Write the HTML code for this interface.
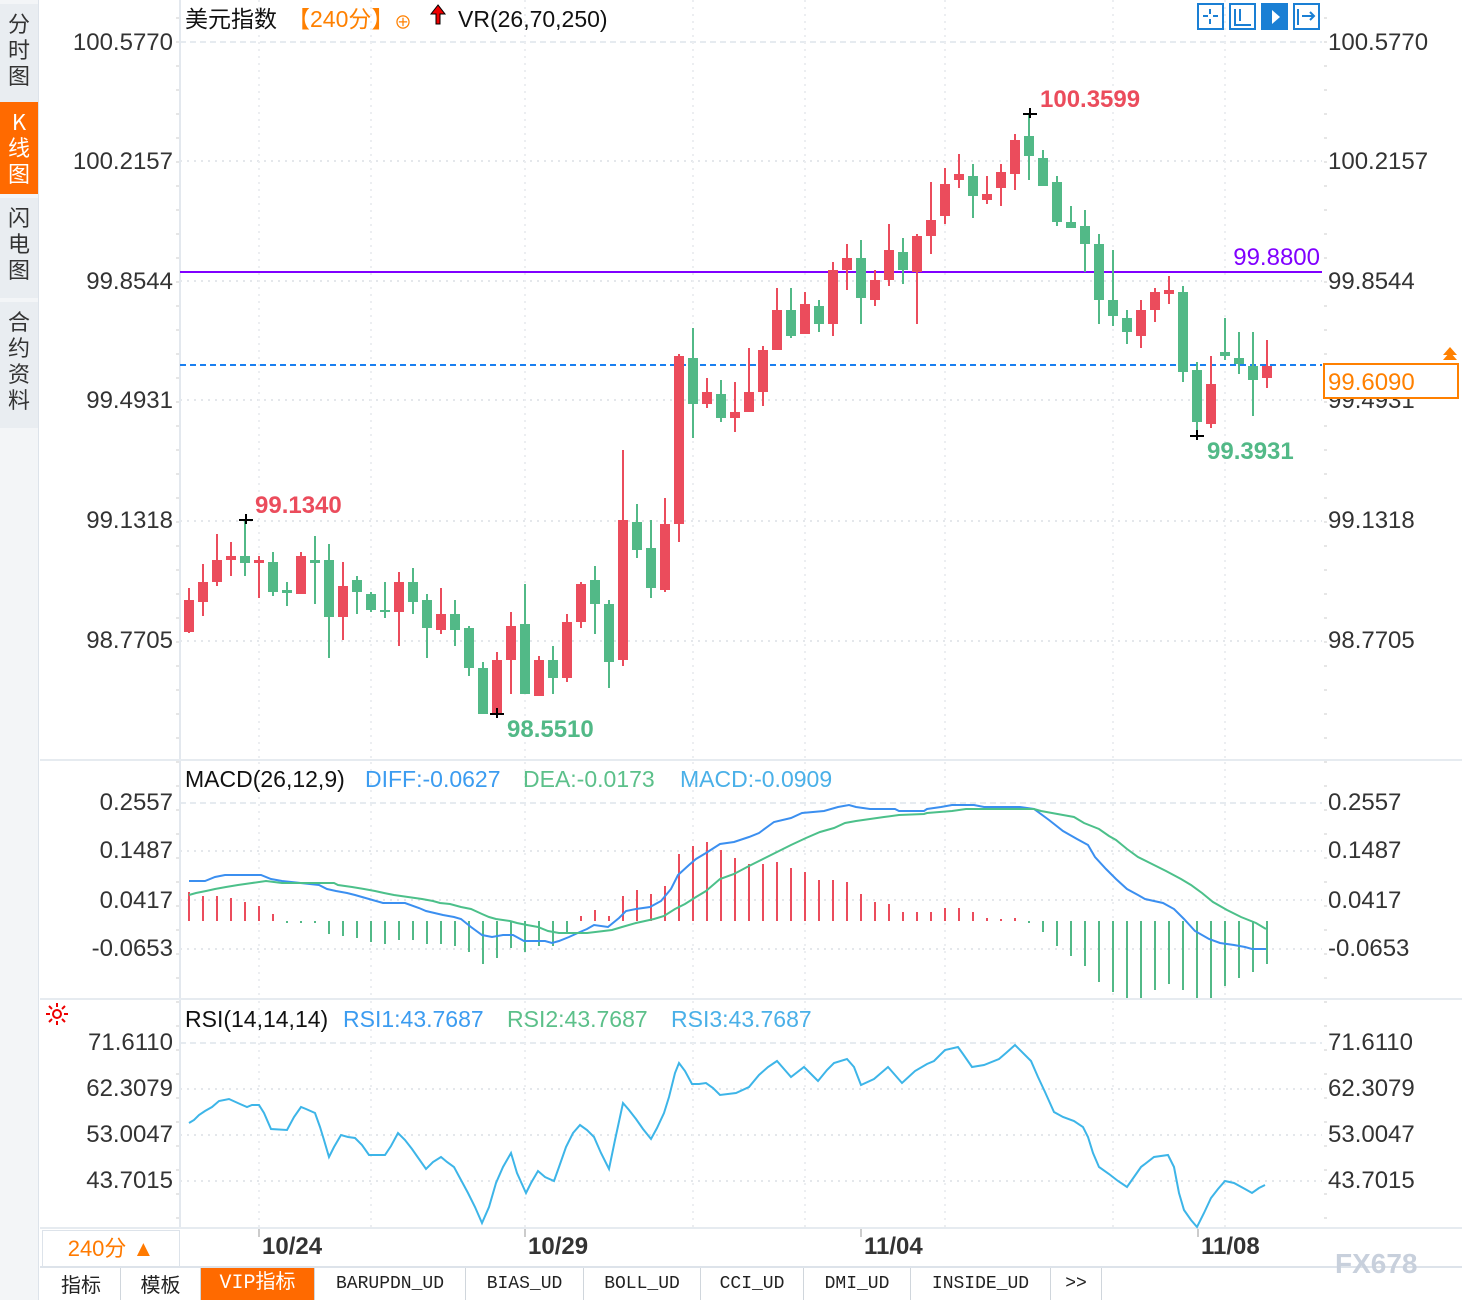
<!DOCTYPE html>
<html><head><meta charset="utf-8">
<style>
body{margin:0;width:1462px;height:1300px;overflow:hidden;background:#fff;font-family:"Liberation Sans","Noto Sans CJK SC",sans-serif;position:relative}
.side{position:absolute;left:0;top:0;width:38px;height:1300px;background:#f3f5f7;border-right:1px solid #dde3ea}
.tab{position:absolute;left:0;width:38px;background:#e9edf1;color:#333;font-size:22px;line-height:26px;text-align:center;font-family:"Noto Sans CJK SC",sans-serif}
.bt{position:absolute;top:1268px;height:32px;border-right:1px solid #d0d6dc;font-family:"Liberation Mono","Noto Sans CJK SC",monospace;font-size:18px;line-height:32px;text-align:center;color:#222;background:#fff}
svg text{font-family:"Liberation Sans","Noto Sans CJK SC",sans-serif}
</style></head><body>
<div class="side">
<div class="tab" style="top:4px;height:94px;padding-top:6px">分<br>时<br>图</div>
<div class="tab" style="top:102px;height:86px;padding-top:6px;background:#ff6a00;color:#fff">K<br>线<br>图</div>
<div class="tab" style="top:198px;height:94px;padding-top:6px">闪<br>电<br>图</div>
<div class="tab" style="top:302px;height:120px;padding-top:6px">合<br>约<br>资<br>料</div>
</div>
<svg id="s" width="1462" height="1300" style="position:absolute;left:0;top:0" xmlns="http://www.w3.org/2000/svg">
<g id="grid"></g>
<line x1="180" y1="0" x2="180" y2="1228" stroke="#e3e8ee" stroke-width="2"/>
<line x1="40" y1="760" x2="1462" y2="760" stroke="#e6ebf0" stroke-width="2"/>
<line x1="40" y1="999" x2="1462" y2="999" stroke="#e6ebf0" stroke-width="2"/>
<line x1="40" y1="1228" x2="1462" y2="1228" stroke="#e6ebf0" stroke-width="2"/>
<line x1="180" y1="272" x2="1322" y2="272" stroke="#8000ff" stroke-width="2"/>
<line x1="180" y1="365" x2="1322" y2="365" stroke="#1a7ff0" stroke-width="2" stroke-dasharray="6,4"/>
<g id="candles"></g>
<g id="macd"></g>
<g font-size="24" fill="#333" text-anchor="end">
<text x="173" y="50">100.5770</text><text x="173" y="169">100.2157</text><text x="173" y="289">99.8544</text><text x="173" y="408">99.4931</text><text x="173" y="528">99.1318</text><text x="173" y="648">98.7705</text>
<text x="173" y="810">0.2557</text><text x="173" y="858">0.1487</text><text x="173" y="908">0.0417</text><text x="173" y="956">-0.0653</text>
<text x="173" y="1050">71.6110</text><text x="173" y="1096">62.3079</text><text x="173" y="1142">53.0047</text><text x="173" y="1188">43.7015</text>
</g>
<g font-size="24" fill="#333">
<text x="1328" y="50">100.5770</text><text x="1328" y="169">100.2157</text><text x="1328" y="289">99.8544</text><text x="1328" y="408">99.4931</text><text x="1328" y="528">99.1318</text><text x="1328" y="648">98.7705</text>
<text x="1328" y="810">0.2557</text><text x="1328" y="858">0.1487</text><text x="1328" y="908">0.0417</text><text x="1328" y="956">-0.0653</text>
<text x="1328" y="1050">71.6110</text><text x="1328" y="1096">62.3079</text><text x="1328" y="1142">53.0047</text><text x="1328" y="1188">43.7015</text>
</g>
<rect x="1324" y="364" width="134" height="34" fill="#fff" stroke="#ff8000" stroke-width="2"/>
<text x="1328" y="390" font-size="24" fill="#ff8000">99.6090</text>
<path d="M1443 360 L1450 352 L1457 360 Z M1443 355 L1450 347 L1457 355 Z" fill="#ff8000"/>
<g font-size="24" font-weight="bold">
<text x="1040" y="107" fill="#eb4c5c">100.3599</text>
<text x="1207" y="459" fill="#52b987">99.3931</text>
<text x="255" y="513" fill="#eb4c5c">99.1340</text>
<text x="507" y="737" fill="#52b987">98.5510</text>
<text x="1320" y="265" fill="#8000ff" text-anchor="end" font-weight="normal">99.8800</text>
</g>
<g stroke="#000" stroke-width="2">
<path d="M1023 114h14M1030 108v10M1190 436h14M1197 430v10M239 520h14M246 514v10M490 714h14M497 708v10"/>
</g>
<g font-size="23">
<text x="185" y="27" fill="#111">美元指数</text>
<text x="287" y="27" fill="#ff8000">【240分】</text>
<text x="394" y="29" fill="#ff8000" font-size="18">⊕</text>
<path d="M438 5 L431 14 L436 14 L436 24 L440 24 L440 14 L445 14 Z" fill="#e00" stroke="#000" stroke-width="1"/>
<text x="458" y="27" fill="#111">VR(26,70,250)</text>
<text x="185" y="787" fill="#111">MACD(26,12,9)</text>
<text x="365" y="787" fill="#3c9cf0">DIFF:-0.0627</text>
<text x="523" y="787" fill="#5cc08a">DEA:-0.0173</text>
<text x="680" y="787" fill="#4ab0e8">MACD:-0.0909</text>
<text x="185" y="1027" fill="#111">RSI(14,14,14)</text>
<text x="343" y="1027" fill="#3c9cf0">RSI1:43.7687</text>
<text x="507" y="1027" fill="#5cc08a">RSI2:43.7687</text>
<text x="671" y="1027" fill="#4ab0e8">RSI3:43.7687</text>
</g>
<g stroke="#e00" stroke-width="2" fill="none"><circle cx="57" cy="1014" r="4"/><path d="M57 1003v4M57 1021v4M46 1014h4M64 1014h4M49 1006l3 3M62 1019l3 3M65 1006l-3 3M52 1019l-3 3"/></g>
<g fill="none" stroke="#1a7fd4" stroke-width="2">
<rect x="1198" y="4" width="25" height="25"/><rect x="1230" y="4" width="25" height="25"/><rect x="1262" y="4" width="25" height="25" fill="#1a7fd4"/><rect x="1294" y="4" width="25" height="25"/>
<path d="M1210 9v5M1210 19v5M1203 16h5M1213 16h5M1235 9v16h16M1240 9v12M1267 9v16h16M1272 9v12M1298 9v16M1302 16h12M1310 12l4 4-4 4" /></g>
<path d="M1272 10l8 7-8 7z" fill="#fff"/>
<g font-size="24" font-weight="bold" fill="#333">
<text x="262" y="1254">10/24</text><text x="528" y="1254">10/29</text><text x="864" y="1254">11/04</text><text x="1201" y="1254">11/08</text>
</g>
<g stroke="#999" stroke-width="1"><path d="M259 1229v8M525 1229v8M861 1229v8M1198 1229v8"/></g>
</svg>
<div style="position:absolute;left:42px;top:1230px;width:136px;height:35px;border:1px solid #dde3ea;color:#ff7a00;font-size:22px;line-height:35px;text-align:center;font-family:'Liberation Sans','Noto Sans CJK SC',sans-serif">240分 ▲</div>
<div style="position:absolute;left:40px;top:1266px;width:1422px;height:2px;background:#dde3ea"></div>
<div class="bt" style="left:42px;width:78px;font-family:'Noto Sans CJK SC',sans-serif;font-size:20px">指标</div>
<div class="bt" style="left:121px;width:79px;font-family:'Noto Sans CJK SC',sans-serif;font-size:20px">模板</div>
<div class="bt" style="left:201px;width:113px;background:#ff6a00;color:#fff;font-size:20px">VIP指标</div>
<div class="bt" style="left:315px;width:150px">BARUPDN_UD</div>
<div class="bt" style="left:466px;width:117px">BIAS_UD</div>
<div class="bt" style="left:584px;width:116px">BOLL_UD</div>
<div class="bt" style="left:701px;width:102px">CCI_UD</div>
<div class="bt" style="left:804px;width:106px">DMI_UD</div>
<div class="bt" style="left:911px;width:139px">INSIDE_UD</div>
<div class="bt" style="left:1051px;width:50px">&gt;&gt;</div>
<div style="position:absolute;left:1335px;top:1248px;color:#c8d0dc;font-size:28px;font-weight:bold;font-family:'Liberation Sans',sans-serif">FX678</div>
<script>
var NS="http://www.w3.org/2000/svg";
function el(p,t,a){var e=document.createElementNS(NS,t);for(var k in a)e.setAttribute(k,a[k]);p.appendChild(e);return e;}
var g=document.getElementById('grid');
[161,281,400,521,641].forEach(function(y){el(g,'line',{x1:180,x2:1322,y1:y,y2:y,stroke:'#e4e7eb','stroke-width':2,'stroke-dasharray':'2,5'});});
[851,900,949,1089,1135,1181].forEach(function(y){el(g,'line',{x1:180,x2:1322,y1:y,y2:y,stroke:'#e4e7eb','stroke-width':2,'stroke-dasharray':'2,5'});});
[42,803,1043].forEach(function(y){el(g,'line',{x1:180,x2:1322,y1:y,y2:y,stroke:'#e6ebf0','stroke-width':2,'stroke-dasharray':'6,4'});});
[259,371,525,693,805,945,1113,1225].forEach(function(x){[[0,758],[762,997],[1001,1227]].forEach(function(r){el(g,'line',{x1:x,x2:x,y1:r[0],y2:r[1],stroke:'#eceef1','stroke-width':2,'stroke-dasharray':'2,5'});});});
for(var y=18;y<1228;y+=24){el(g,'line',{x1:176,x2:180,y1:y,y2:y,stroke:'#ccc'});el(g,'line',{x1:1324,x2:1327,y1:y,y2:y,stroke:'#ccc'});}
var C=[[600,632,588,633,1],[582,602,564,616,1],[560,582,534,586,1],[556,560,542,576,1],[556,563,521,576,0],[560,563,556,598,1],[562,592,552,596,0],[590,593,582,606,0],[556,594,552,594,1],[560,563,536,604,0],[560,617,544,658,0],[586,617,562,640,1],[580,592,576,614,0],[594,610,592,612,0],[610,612,582,618,0],[582,612,572,646,1],[582,602,568,614,0],[600,628,594,658,0],[614,630,588,634,1],[614,630,600,646,0],[628,668,626,676,0],[668,714,662,714,0],[660,714,652,716,1],[626,660,612,694,1],[624,694,584,694,0],[660,696,656,696,1],[660,678,646,694,0],[622,678,614,682,1],[584,622,582,628,1],[580,604,566,634,0],[604,662,600,688,0],[520,660,450,666,1],[522,550,504,558,0],[548,588,520,598,0],[524,590,498,592,1],[356,524,354,542,1],[358,404,328,438,0],[392,404,378,408,1],[394,418,380,422,0],[412,418,382,432,1],[392,412,348,412,1],[350,392,346,406,1],[310,350,288,350,1],[310,336,288,338,0],[304,334,292,334,1],[306,324,300,332,0],[270,324,262,336,1],[258,270,244,290,1],[258,298,240,324,0],[280,300,270,306,1],[250,280,224,286,1],[252,270,238,284,0],[236,272,234,324,1],[220,236,182,254,1],[184,216,168,224,1],[174,180,154,188,1],[176,196,164,218,0],[194,200,176,204,1],[172,188,164,206,1],[140,174,134,190,1],[136,156,114,180,0],[158,186,150,186,0],[182,222,176,226,0],[222,228,206,228,0],[226,244,210,272,0],[244,300,234,324,0],[300,316,250,326,0],[318,332,310,344,0],[310,336,300,348,1],[292,310,288,322,1],[290,294,276,304,1],[292,372,286,382,0],[370,422,362,436,0],[384,424,356,428,1],[352,356,318,360,0],[358,364,332,374,0],[366,380,332,416,0],[366,378,340,388,1]];
var cg=document.getElementById('candles');
C.forEach(function(c,i){var x=189+14*i,col=c[4]?'#eb4c5c':'#52b987';
el(cg,'rect',{x:x-1,y:c[2],width:2,height:c[3]-c[2],fill:col});
el(cg,'rect',{x:x-5,y:c[0],width:10,height:Math.max(2,c[1]-c[0]),fill:col});});
var M=[892,896,896,898,902,906,914,923,923,923,934,936,938,942,944,940,940,944,944,946,952,964,958,948,952,946,946,933,916,910,916,896,890,894,886,854,846,842,850,858,864,864,862,868,872,880,880,882,894,902,904,912,912,912,908,908,912,918,919,918,923,932,946,956,966,982,992,998,998,990,984,990,998,998,986,978,972,964];
var mg=document.getElementById('macd');
M.forEach(function(t,i){var x=189+14*i,z=921;el(mg,'rect',{x:x-1,y:Math.min(t,z),width:2,height:Math.max(1,Math.abs(t-z)),fill:t<z?'#eb4c5c':'#52b987'});});
function pl(s,col){el(mg,'polyline',{points:s,fill:'none',stroke:col,'stroke-width':2});}
pl("189,881 205,881 215,877 225,875 261,875 271,879 282,881 319,885 327,889 336,891 347,893 355,895 369,899 383,903 405,903 419,908 426,911 443,915 454,917 461,919 471,927 482,935 492,937 503,935 513,935 524,941 545,941 552,943 559,941 569,937 580,932 587,929 594,925 608,927 619,918 626,911 636,909 650,907 661,901 671,889 678,875 689,865 696,859 706,853 720,844 734,842 749,837 759,833 774,822 791,818 802,813 824,811 838,807 849,805 856,807 870,809 895,809 899,811 924,811 927,809 941,807 952,805 974,805 984,807 1009,807 1020,807 1034,809 1049,820 1063,831 1077,839 1088,845 1095,857 1106,869 1116,879 1127,889 1138,895 1145,899 1163,903 1174,909 1184,919 1195,931 1209,939 1220,943 1234,945 1245,947 1252,949 1266,949","#3b8ff0");
pl("189,895 196,893 206,891 215,889 226,887 238,885 252,883 266,881 282,883 334,883 338,885 352,887 364,889 375,891 384,893 394,895 408,897 422,899 433,901 440,903 450,904 461,907 471,909 482,914 489,917 496,919 510,921 517,923 527,925 538,927 548,931 559,933 587,933 612,930 622,927 636,923 654,919 664,916 675,909 685,904 696,897 706,891 720,879 734,874 749,866 763,859 777,852 791,845 806,838 820,832 834,828 845,823 856,821 870,819 884,817 899,815 924,814 927,813 952,811 966,809 1034,809 1041,811 1063,815 1074,817 1084,823 1099,829 1109,836 1116,840 1127,849 1138,857 1152,864 1166,871 1181,879 1191,885 1202,893 1213,902 1227,910 1241,917 1256,923 1266,929","#4cc08a");
pl("189,1123 194,1120 199,1115 205,1111 212,1107 219,1101 229,1099 240,1104 247,1107 252,1105 259,1105 264,1113 271,1129 287,1130 294,1117 301,1107 306,1109 315,1113 320,1127 324,1140 329,1157 334,1147 341,1135 348,1137 355,1138 362,1145 369,1155 385,1155 391,1146 398,1133 405,1140 412,1149 419,1159 426,1169 433,1162 441,1157 447,1162 454,1167 461,1180 468,1193 475,1207 482,1223 489,1207 496,1183 503,1167 511,1153 517,1173 526,1193 531,1183 538,1171 545,1177 554,1181 559,1167 566,1147 573,1133 580,1125 587,1130 594,1137 601,1153 609,1169 615,1140 623,1103 629,1110 636,1119 643,1129 651,1139 657,1128 664,1113 669,1097 675,1073 679,1063 685,1071 692,1084 699,1084 706,1083 713,1088 720,1095 736,1093 749,1087 759,1075 768,1067 777,1061 784,1069 791,1077 804,1067 818,1081 827,1070 834,1063 847,1059 854,1067 861,1085 874,1079 888,1067 902,1083 915,1071 927,1064 934,1061 945,1050 958,1047 963,1054 972,1067 984,1065 999,1059 1006,1053 1015,1045 1031,1061 1038,1077 1045,1092 1054,1112 1063,1117 1074,1121 1083,1127 1088,1137 1093,1153 1099,1167 1109,1174 1118,1181 1127,1187 1134,1177 1141,1167 1154,1157 1168,1155 1174,1167 1179,1193 1184,1210 1191,1220 1197,1227 1204,1213 1211,1198 1218,1189 1225,1181 1234,1183 1245,1189 1252,1193 1259,1188 1265,1185","#3db5e8");
</script>
</body></html>
